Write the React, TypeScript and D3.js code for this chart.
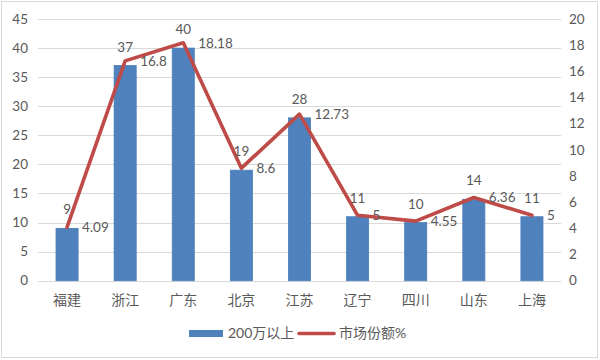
import React from "react";
import * as d3 from "d3";

const categories = ["福建", "浙江", "广东", "北京", "江苏", "辽宁", "四川", "山东", "上海"];
const barValues = [9, 37, 40, 19, 28, 11, 10, 14, 11];
const shareValues = [4.09, 16.8, 18.18, 8.6, 12.73, 5, 4.55, 6.36, 5];
const shareLabels = ["4.09", "16.8", "18.18", "8.6", "12.73", "5", "4.55", "6.36", "5"];
const leftTicks = [0, 5, 10, 15, 20, 25, 30, 35, 40, 45];
const rightTicks = [0, 2, 4, 6, 8, 10, 12, 14, 16, 18, 20];
const barSeriesName = "200万以上";
const lineSeriesName = "市场份额%";

const W = 600, H = 360;
const plot = { left: 38, right: 561, top: 19, bottom: 280.7 };
const FONT = "Lato, 'Noto Sans CJK SC', sans-serif";
const CJK = "'Noto Sans CJK SC', sans-serif";
const textColor = "#595959";
const barColor = "#4F81BD";
const lineColor = "#BE4B48";

export default function App() {
  const x = d3.scaleBand<string>().domain(categories).range([plot.left, plot.right]).paddingInner(0).paddingOuter(0);
  const yL = d3.scaleLinear().domain([0, 45]).range([plot.bottom, plot.top]);
  const yR = d3.scaleLinear().domain([0, 20]).range([plot.bottom, plot.top]);
  const bw = x.bandwidth() * 0.38;
  const cx = (c: string) => (x(c) as number) + x.bandwidth() / 2;
  const line = d3.line<number>().x((_, i) => cx(categories[i])).y((v) => yR(v));

  return (
    <svg width={W} height={H} style={{ position: "absolute", left: 0, top: 0 }}>
      <rect x={0} y={0} width={W} height={H} fill="#fff" />
      <rect x={1.5} y={1.5} width={596} height={356} fill="none" stroke="#D9D9D9" strokeWidth={1} />
      {leftTicks.map((t) => (
        <line key={"g" + t} x1={plot.left} x2={plot.right} y1={Math.round(yL(t)) + 0.5} y2={Math.round(yL(t)) + 0.5} stroke="#D9D9D9" strokeWidth={1} />
      ))}
      {leftTicks.map((t) => (
        <text key={"l" + t} x={28} y={yL(t)} dy="0.35em" textAnchor="end" fontFamily={FONT} fontSize={13.5} fill={textColor}>{t}</text>
      ))}
      {rightTicks.map((t) => (
        <text key={"r" + t} x={569} y={yR(t)} dy="0.35em" textAnchor="start" fontFamily={FONT} fontSize={13.5} fill={textColor}>{t}</text>
      ))}
      {categories.map((c, i) => (
        <rect key={"b" + c} x={cx(c) - bw / 2} y={yL(barValues[i])} width={bw} height={yL(0) - yL(barValues[i])} fill={barColor} stroke="#4A7EBB" strokeWidth={0.8} />
      ))}
      <path d={line(shareValues) || ""} fill="none" stroke={lineColor} strokeWidth={3.6} strokeLinejoin="round" strokeLinecap="round" />
      {categories.map((c, i) => (
        <text key={"bl" + c} x={cx(c)} y={yL(barValues[i]) - 14} textAnchor="middle" fontFamily={FONT} fontSize={13.5} fill={textColor}>{barValues[i]}</text>
      ))}
      {categories.map((c, i) => (
        <text key={"ll" + c} x={cx(c) + 15} y={yR(shareValues[i])} dy="0.35em" textAnchor="start" fontFamily={FONT} fontSize={13.5} fill={textColor}>{shareLabels[i]}</text>
      ))}
      {categories.map((c) => (
        <text key={"x" + c} x={cx(c)} y={300} dy="0.35em" textAnchor="middle" fontFamily={CJK} fontSize={14} fill={textColor}>{c}</text>
      ))}
      <rect x={189} y={330} width={34} height={7} fill={barColor} />
      <text x={228} y={333.5} dy="0.35em" fontFamily={FONT} fontSize={14} fill={textColor}>{barSeriesName}</text>
      <line x1={299} x2={334} y1={333.5} y2={333.5} stroke={lineColor} strokeWidth={3.6} strokeLinecap="round" />
      <text x={339} y={333.5} dy="0.35em" fontFamily={FONT} fontSize={14} fill={textColor}>{lineSeriesName}</text>
    </svg>
  );
}
